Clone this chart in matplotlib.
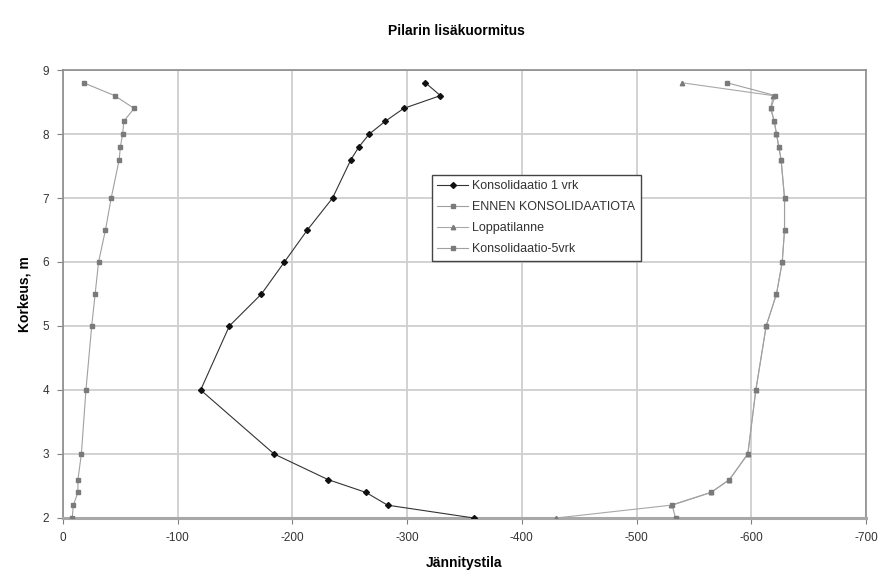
import matplotlib
matplotlib.use("Agg")
import matplotlib.pyplot as plt
from matplotlib.ticker import FuncFormatter

plt.rcParams['font.family'] = ['Liberation Sans', 'DejaVu Sans']

# Heights (m) and stress values for each state
height_1vrk = [8.8, 8.6, 8.4, 8.2, 8.0, 7.8, 7.6, 7.0, 6.5, 6.0, 5.5, 5.0, 4.0, 3.0, 2.6, 2.4, 2.2, 2.0]
stress_1vrk = [-316, -329, -297, -281, -267, -258, -251, -235, -213, -193, -173, -145, -120, -184, -231, -264, -283, -358]

height_ennen = [8.8, 8.6, 8.4, 8.2, 8.0, 7.8, 7.6, 7.0, 6.5, 6.0, 5.5, 5.0, 4.0, 3.0, 2.6, 2.4, 2.2, 2.0]
stress_ennen = [-18, -45, -62, -53, -52, -50, -49, -42, -37, -31, -28, -25, -20, -16, -13, -13, -9, -8]

height_loppu = [8.8, 8.6, 8.4, 8.2, 8.0, 7.8, 7.6, 7.0, 6.5, 6.0, 5.5, 5.0, 4.0, 3.0, 2.6, 2.4, 2.2, 2.0]
stress_loppu = [-540, -619, -617, -620, -622, -624, -626, -629, -629, -627, -622, -613, -604, -597, -581, -565, -530, -430]

height_5vrk = [8.8, 8.6, 8.4, 8.2, 8.0, 7.8, 7.6, 7.0, 6.5, 6.0, 5.5, 5.0, 4.0, 3.0, 2.6, 2.4, 2.2, 2.0]
stress_5vrk = [-579, -621, -617, -620, -622, -624, -626, -629, -629, -627, -622, -613, -604, -597, -581, -565, -531, -534]

series_labels = ["Konsolidaatio 1 vrk", "ENNEN KONSOLIDAATIOTA", "Loppatilanne", "Konsolidaatio-5vrk"]

fig = plt.figure(figsize=(8.9, 5.82), dpi=100)
ax = fig.add_axes([0.0708, 0.110, 0.9022, 0.7697])

ax.plot(stress_1vrk, height_1vrk, color='#333333', lw=0.8, marker='D', ms=3,
        mec='#111111', mfc='#111111', label=series_labels[0], zorder=5)
ax.plot(stress_ennen, height_ennen, color='#a0a0a0', lw=0.8, marker='s', ms=3.2,
        mec='#7a7a7a', mfc='#7a7a7a', label=series_labels[1], zorder=4)
ax.plot(stress_loppu, height_loppu, color='#a8a8a8', lw=0.8, marker='^', ms=3.2,
        mec='#7a7a7a', mfc='#7a7a7a', label=series_labels[2], zorder=3)
ax.plot(stress_5vrk, height_5vrk, color='#a0a0a0', lw=0.8, marker='s', ms=3.2,
        mec='#7a7a7a', mfc='#7a7a7a', label=series_labels[3], zorder=4)

ax.set_xlim(0, -700)
ax.set_ylim(2, 9)
ax.set_xticks(range(0, -701, -100))
ax.set_yticks(range(2, 10))
ax.xaxis.set_major_formatter(FuncFormatter(lambda v, p: f"{int(v)}".replace('\u2212', '-')))
ax.grid(True, color='#cfcfcf', lw=1.3)
ax.set_axisbelow(True)
for s in ax.spines.values():
    s.set_color('#8c8c8c')
    s.set_linewidth(1.2)
ax.spines['bottom'].set_color('#a8a8a8')
ax.spines['bottom'].set_linewidth(2.2)
ax.tick_params(axis='both', direction='out', length=4, color='#808080',
               labelsize=8.5, labelcolor='#333333', pad=6)

ax.set_xlabel("Jännitystila", fontsize=10, fontweight='bold', labelpad=9)
ax.set_ylabel("Korkeus, m", fontsize=10, fontweight='bold', labelpad=8)
fig.text(0.513, 0.946, "Pilarin lisäkuormitus", ha='center', va='center',
         fontsize=10, fontweight='bold')

leg = ax.legend(loc='upper left', bbox_to_anchor=(0.459, 0.766), fontsize=9,
                frameon=True, fancybox=False, edgecolor='#444444', framealpha=1,
                borderpad=0.45, labelspacing=0.72, handlelength=2.5, handletextpad=0.3,
                borderaxespad=0)
leg.get_frame().set_linewidth(1.0)
for t in leg.get_texts():
    t.set_color('#333333')

fig.savefig("out.png", dpi=100)
